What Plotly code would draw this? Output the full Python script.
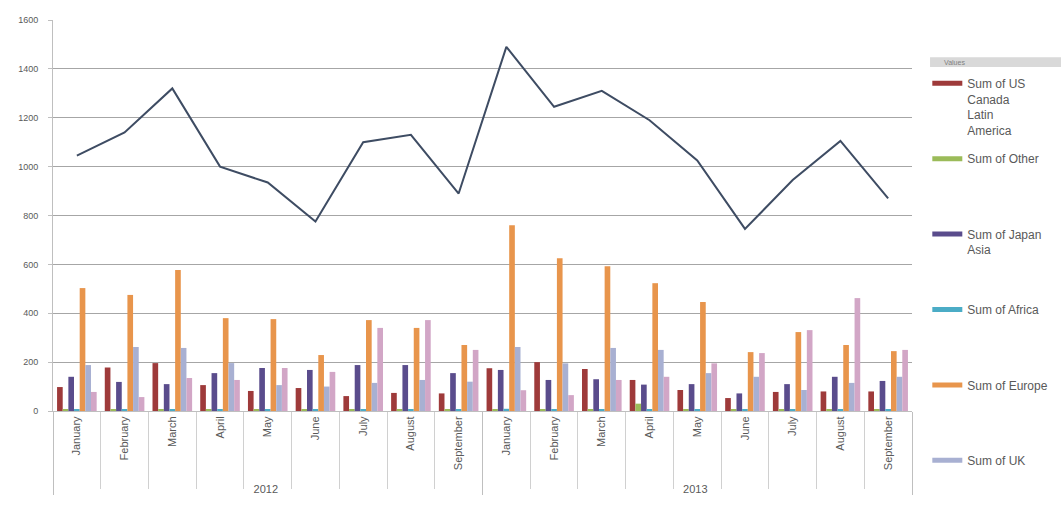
import plotly.graph_objects as go

months = ["January", "February", "March", "April", "May", "June", "July", "August", "September"]
years = ["2012", "2013"]

us_canada_latam = [98, 178, 196, 106, 82, 94, 61, 74, 72, 175, 200, 172, 127, 86, 53, 78, 80, 80]
other = [5, 5, 6, 5, 5, 6, 5, 5, 6, 6, 5, 5, 30, 6, 5, 5, 6, 5]
japan_asia = [140, 119, 110, 155, 176, 168, 188, 188, 155, 168, 127, 130, 108, 110, 72, 110, 140, 123]
africa = [8, 7, 8, 6, 7, 8, 7, 8, 7, 9, 8, 7, 8, 7, 6, 7, 8, 7]
europe = [503, 475, 577, 380, 376, 229, 372, 340, 270, 760, 625, 592, 523, 446, 241, 323, 270, 245]
uk = [188, 262, 258, 196, 106, 100, 115, 127, 120, 262, 195, 258, 250, 155, 140, 86, 115, 140]
rest = [78, 57, 135, 127, 176, 160, 340, 372, 250, 85, 65, 127, 140, 195, 237, 331, 462, 250]
total = [1045, 1140, 1320, 1000, 935, 775, 1100, 1130, 890, 1490, 1245, 1310, 1190, 1025, 745, 945, 1105, 870]

x_years = [y for y in years for _ in months]
x_months = [m for _ in years for m in months]
x = [x_years, x_months]

series = [
    ("Sum of US<br>Canada<br>Latin<br>America", us_canada_latam, "#9E3A3A", True),
    ("Sum of Other<br> <br> <br> ", other, "#9BBB59", True),
    ("Sum of Japan<br>Asia<br> <br> ", japan_asia, "#5A4C8C", True),
    ("Sum of Africa<br> <br> <br> ", africa, "#4BACC6", True),
    ("Sum of Europe<br> <br> <br> ", europe, "#E8954C", True),
    ("Sum of UK", uk, "#A8B0D2", True),
    ("Sum of Rest", rest, "#D2A6C6", False),
]

fig = go.Figure()
for name, vals, color, _ in series:
    fig.add_trace(go.Bar(x=x, y=vals, name=name.split("<br> ")[0], marker=dict(color=color, line=dict(width=0)),
                         showlegend=False))

fig.add_trace(go.Scatter(x=x, y=total, name="Total", mode="lines",
                         line=dict(color="#3E4C63", width=2), showlegend=False))

# legend swatches (line-style, like the original legend)
for i, (name, vals, color, show) in enumerate(series):
    if not show:
        continue
    fig.add_trace(go.Scatter(x=[[years[0]], [months[0]]], y=[None], mode="lines", name=name,
                             line=dict(color=color, width=5), legendgroup=f"g{i}",
                             showlegend=True, hoverinfo="skip"))

fig.update_layout(
    width=1061, height=511,
    margin=dict(l=53, r=149, t=20, b=100),
    paper_bgcolor="white", plot_bgcolor="white",
    barmode="group", bargap=0.17, bargroupgap=0,
    font=dict(family="Liberation Sans, Arial, sans-serif", size=11, color="#595959"),
    legend=dict(x=0.874, xanchor="left", y=0.865, yanchor="top",
                xref="container", yref="container",
                font=dict(size=12, color="#595959"), tracegroupgap=10,
                valign="top", itemwidth=30, traceorder="grouped", maxheight=511,
                bgcolor="rgba(0,0,0,0)"),
    showlegend=True,
)

fig.update_yaxes(range=[0, 1600], dtick=200, showgrid=True, gridcolor="#A6A6A6", gridwidth=1,
                 showline=True, linecolor="#BFBFBF", ticks="outside", ticklen=4, tickcolor="#BFBFBF",
                 ticklabelstandoff=8, tickfont=dict(size=9, color="#595959"), zeroline=False,
                 automargin=False)
fig.update_xaxes(type="multicategory", tickangle=-90, showline=True, linecolor="#BFBFBF",
                 ticks="outside", tickson="boundaries", ticklen=77, tickcolor="#D0D0D0",
                 showdividers=True, dividercolor="#BFBFBF", dividerwidth=1,
                 tickfont=dict(size=11, color="#595959"), automargin=False)

fig.add_shape(type="rect", xref="paper", yref="paper", x0=1.021, x1=1.175, y0=0.88, y1=0.905,
              fillcolor="#D9D9D9", line=dict(width=0), layer="below")
fig.add_annotation(xref="paper", yref="paper", x=1.035, y=0.8925, text="Values", showarrow=False,
                   xanchor="left", yanchor="middle", font=dict(size=7, color="#7F7F7F"))

fig.write_html("out.html", config={"displayModeBar": False},
               post_script="document.body.style.margin='0';")
